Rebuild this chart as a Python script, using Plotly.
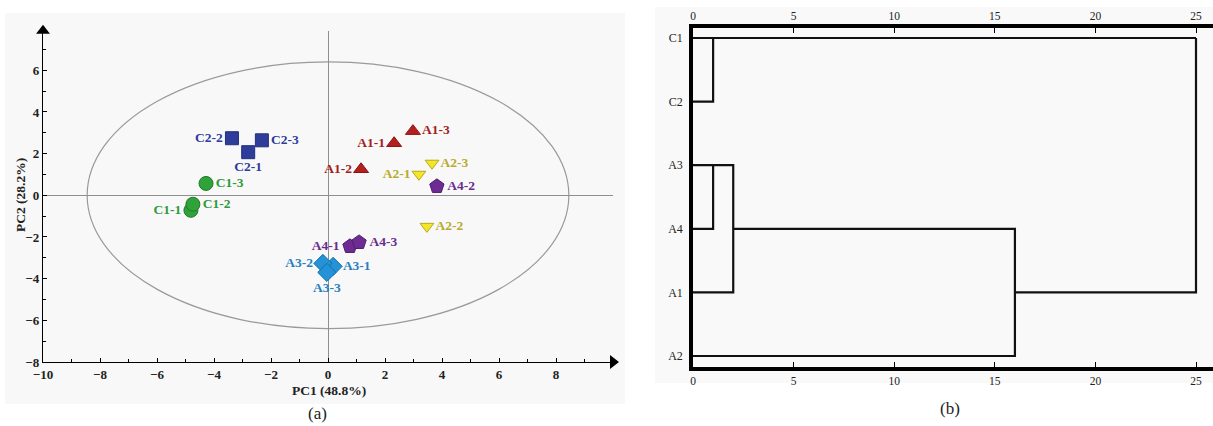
import plotly.graph_objects as go

W, H = 1213, 426

# ---------------- PCA data (panel a) ----------------
groups = ["C2", "C1", "A1", "A2", "A4", "A3"]
pc1 = {
    "C2": [-2.80, -3.37, -2.32],
    "C1": [-4.81, -4.74, -4.28],
    "A1": [2.32, 1.16, 2.98],
    "A2": [3.19, 3.47, 3.65],
    "A4": [0.77, 3.82, 1.09],
    "A3": [0.18, -0.18, -0.04],
}
pc2 = {
    "C2": [2.07, 2.74, 2.64],
    "C1": [-0.72, -0.43, 0.57],
    "A1": [2.50, 1.25, 3.08],
    "A2": [1.01, -1.49, 1.54],
    "A4": [-2.45, 0.43, -2.26],
    "A3": [-3.41, -3.27, -3.70],
}
label_pos = {
    "C2": ["bottom center", "middle left", "middle right"],
    "C1": ["middle left", "middle right", "middle right"],
    "A1": ["middle left", "middle left", "middle right"],
    "A2": ["middle left", "middle right", "middle right"],
    "A4": ["middle left", "middle right", "middle right"],
    "A3": ["middle right", "middle left", "bottom center"],
}
symbols = {"C2": "square", "C1": "circle", "A1": "triangle-up",
           "A2": "triangle-down", "A4": "pentagon", "A3": "diamond"}
fills = {"C2": "#2e3c9a", "C1": "#2fa33a", "A1": "#b3201e",
         "A2": "#f3e62a", "A4": "#6e2c93", "A3": "#2492d6"}
edges = {"C2": "#22307e", "C1": "#1f7a28", "A1": "#8a1414",
         "A2": "#b8a91c", "A4": "#4f1e6e", "A3": "#1a6ea8"}
textcol = {"C2": "#2e3c9a", "C1": "#2f9a3a", "A1": "#a31f1c",
           "A2": "#b9ab2c", "A4": "#6a2c8e", "A3": "#2a7fc0"}
sizes = {"C2": 13, "C1": 14, "A1": 13, "A2": 12, "A4": 15, "A3": 14}
ellipse_a, ellipse_b = 8.45, 6.4
x_ticks = [-10, -8, -6, -4, -2, 0, 2, 4, 6, 8]
y_ticks = [-8, -6, -4, -2, 0, 2, 4, 6]
x_range = [-10, 10]
y_range = [-8, 7.9]

# ---------------- dendrogram data (panel b) ----------------
leaves = ["C1", "C2", "A3", "A4", "A1", "A2"]
d_C1C2 = 1
d_A3A4 = 1
d_A34A1 = 2
d_AA2 = 16
d_all = 25
dendro_paths = [
    [(0, "C1"), (d_all, "C1")],
    [(0, "C2"), (d_C1C2, "C2"), (d_C1C2, "C1")],
    [(0, "A3"), (d_A34A1, "A3"), (d_A34A1, "A1"), (0, "A1")],
    [(d_A3A4, "A3"), (d_A3A4, "A4"), (0, "A4")],
    [(d_A34A1, "A4"), (d_AA2, "A4"), (d_AA2, "A2"), (0, "A2")],
    [(d_AA2, "A1"), (d_all, "A1"), (d_all, "C1")],
]
d_ticks = [0, 5, 10, 15, 20, 25]

serif = "Liberation Serif"
fig = go.Figure()

# panel a traces
for g in groups:
    n = len(pc1[g])
    fig.add_trace(go.Scatter(
        x=pc1[g], y=pc2[g], mode="markers+text",
        text=[f"{g}-{i+1}" for i in range(n)],
        textposition=label_pos[g],
        textfont=dict(family=serif, size=13.5, color=textcol[g], weight="bold"),
        marker=dict(symbol=symbols[g], size=sizes[g], color=fills[g],
                    line=dict(color=edges[g], width=1)),
        xaxis="x", yaxis="y", showlegend=False, cliponaxis=False,
    ))

# axis arrowheads
fig.add_trace(go.Scatter(x=[x_range[1]], y=[y_range[0]], mode="markers",
                         marker=dict(symbol="triangle-right", size=12, color="black"),
                         xaxis="x", yaxis="y", showlegend=False, cliponaxis=False))
fig.add_trace(go.Scatter(x=[x_range[0]], y=[y_range[1]], mode="markers",
                         marker=dict(symbol="triangle-up", size=12, color="black"),
                         xaxis="x", yaxis="y", showlegend=False, cliponaxis=False))

# panel b traces
for path in dendro_paths:
    fig.add_trace(go.Scatter(
        x=[p[0] for p in path], y=[leaves.index(p[1]) for p in path],
        mode="lines", line=dict(color="#111111", width=2.2),
        xaxis="x2", yaxis="y2", showlegend=False, cliponaxis=False,
    ))
# invisible trace for top axis
fig.add_trace(go.Scatter(x=[0], y=[0], mode="markers", marker=dict(opacity=0),
                         xaxis="x3", yaxis="y2", showlegend=False, hoverinfo="skip"))

xa_l, xa_r = 43 / W, 613 / W
ya_b, ya_t = 1 - 362 / H, 1 - 30.7 / H
xb_l, xb_r = 693 / W, 1.0
yb_b, yb_t = 1 - 367 / H, 1 - 28 / H
d_span = (W - 693) / 20.12

tick_font = dict(family=serif, size=13, color="#222", weight="bold")
title_font = dict(family=serif, size=13.5, color="#222", weight="bold")

fig.update_layout(
    width=W, height=H, margin=dict(l=0, r=0, t=0, b=0),
    paper_bgcolor="white", plot_bgcolor="rgba(0,0,0,0)",
    xaxis=dict(domain=[xa_l, xa_r], range=x_range, tickvals=x_ticks,
               showline=True, linecolor="black", linewidth=1.3,
               ticks="inside", ticklen=4, tickcolor="black",
               minor=dict(dtick=1, ticks="inside", ticklen=3, tickcolor="black"),
               showgrid=False, zeroline=True, zerolinecolor="#8f8f8f", zerolinewidth=1,
               tickfont=tick_font, automargin=False, anchor="y"),
    yaxis=dict(domain=[ya_b, ya_t], range=y_range, tickvals=y_ticks,
               showline=True, linecolor="black", linewidth=1.3,
               ticks="inside", ticklen=4, tickcolor="black",
               minor=dict(dtick=1, ticks="inside", ticklen=3, tickcolor="black"),
               showgrid=False, zeroline=True, zerolinecolor="#8f8f8f", zerolinewidth=1,
               tickfont=tick_font, automargin=False, anchor="x"),
    xaxis2=dict(domain=[xb_l, xb_r], range=[0, d_span], tickvals=d_ticks,
                showline=True, linecolor="black", linewidth=3.5,
                ticks="inside", ticklen=5, tickcolor="black", tickwidth=1,
                showgrid=False, zeroline=False, automargin=False,
                tickfont=dict(family=serif, size=11.5, color="#222"),
                anchor="y2", side="bottom"),
    xaxis3=dict(domain=[xb_l, xb_r], range=[0, d_span], tickvals=d_ticks,
                showline=True, linecolor="black", linewidth=3.5,
                ticks="inside", ticklen=5, tickcolor="black", tickwidth=1,
                showgrid=False, zeroline=False, automargin=False,
                tickfont=dict(family=serif, size=11.5, color="#222"),
                anchor="y2", side="top", overlaying="x2"),
    yaxis2=dict(domain=[yb_b, yb_t], range=[5 + 11 / 63.6, -10 / 63.6],
                tickvals=list(range(len(leaves))), ticktext=leaves,
                showline=True, linecolor="black", linewidth=3.5,
                ticks="", showgrid=False, zeroline=False, automargin=False,
                tickfont=dict(family=serif, size=12, color="#222"),
                ticklabelstandoff=4,
                anchor="x2"),
    shapes=[
        dict(type="rect", xref="paper", yref="paper", x0=5 / W, x1=625 / W,
             y0=1 - 404 / H, y1=1 - 13 / H, fillcolor="#f8f8f8", line=dict(width=0), layer="below"),
        dict(type="rect", xref="paper", yref="paper", x0=655 / W, x1=1,
             y0=1 - 383 / H, y1=1 - 7 / H, fillcolor="#f9f9f9", line=dict(width=0), layer="below"),
        dict(type="circle", xref="x", yref="y", x0=-ellipse_a, x1=ellipse_a,
             y0=-ellipse_b, y1=ellipse_b, line=dict(color="#9a9a9a", width=1.2), layer="below"),
    ],
    annotations=[
        dict(text="PC1 (48.8%)", x=329 / W, y=1 - 390 / H, xref="paper", yref="paper",
             xanchor="center", yanchor="middle", showarrow=False, font=title_font),
        dict(text="PC2 (28.2%)", x=20 / W, y=1 - 195 / H, xref="paper", yref="paper",
             xanchor="center", yanchor="middle", textangle=-90, showarrow=False, font=title_font),
        dict(text="(a)", x=317 / W, y=1 - 413 / H, xref="paper", yref="paper",
             xanchor="center", yanchor="middle",
             showarrow=False, font=dict(family=serif, size=17, color="#222")),
        dict(text="(b)", x=950 / W, y=1 - 408 / H, xref="paper", yref="paper",
             xanchor="center", yanchor="middle",
             showarrow=False, font=dict(family=serif, size=17, color="#222")),
    ],
)

fig.write_html("out.html")
